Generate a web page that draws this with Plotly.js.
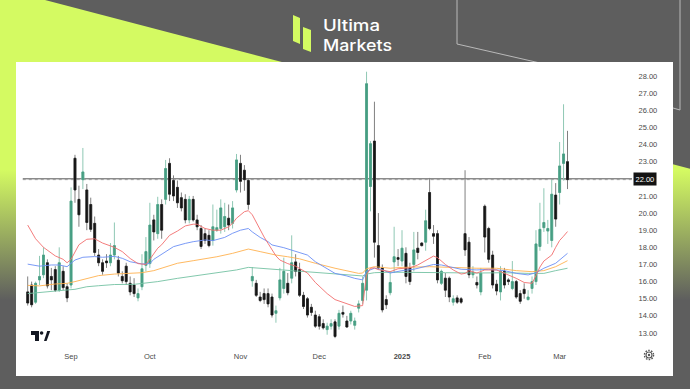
<!DOCTYPE html>
<html><head><meta charset="utf-8">
<script src="https://cdn.plot.ly/plotly-3.0.1.min.js"></script>
<style>
html,body{margin:0;padding:0;width:690px;height:389px;overflow:hidden;background:#5e5e5e;}
#bg{position:absolute;left:0;top:0;}
#chart{position:absolute;left:0;top:0;width:690px;height:389px;}
</style></head><body>
<svg id="bg" width="690" height="389" xmlns="http://www.w3.org/2000/svg">
  <defs>
    <linearGradient id="lg" gradientUnits="userSpaceOnUse" x1="0" y1="170" x2="0" y2="300">
      <stop offset="0" stop-color="#d4fa62"/>
      <stop offset="1" stop-color="#5e5e5e"/>
    </linearGradient>
  </defs>
  <rect width="690" height="389" fill="#5e5e5e"/>
  <polygon points="0,0 45,0 690,168.7 690,389 0,389" fill="url(#lg)"/>
  <polyline points="457,0 457,44 540,63" fill="none" stroke="#b9b9b9" stroke-width="1"/>
  <polyline points="673,108 680,110 680,0" fill="none" stroke="#b9b9b9" stroke-width="1"/>
  <rect x="16" y="62" width="657" height="314" fill="#ffffff"/>
  <polygon points="293,15 300,18 300,44 293,41" fill="#d4fa62"/>
  <polygon points="303,27 311,30 311,52 303,49" fill="#d4fa62"/>
  <text x="323" y="31" font-family="Inter, Roboto, sans-serif" font-weight="500" font-size="16" fill="#ffffff" textLength="57" lengthAdjust="spacingAndGlyphs">Ultima</text>
  <text x="323" y="51" font-family="Inter, Roboto, sans-serif" font-weight="500" font-size="16" fill="#ffffff" textLength="69" lengthAdjust="spacingAndGlyphs">Markets</text>
  <path d="M31 331 h8 v10 h-4 v-6 h-4 z" fill="#131722"/>
  <circle cx="41.6" cy="333" r="1.8" fill="#131722"/>
  <path d="M44 341 l3.2 -10 h3 l-3.6 10 z" fill="#131722"/>
  <circle cx="649" cy="355" r="3" fill="none" stroke="#555" stroke-width="1.1"/>
  <circle cx="649" cy="355" r="4.6" fill="none" stroke="#555" stroke-width="1.3" stroke-dasharray="1.6 1.3"/>
  <circle cx="649" cy="355" r="1.2" fill="#555"/>
</svg>
<div id="chart"></div>
<script>
const dates = [
 "2024-08-16","2024-08-19","2024-08-20","2024-08-21","2024-08-22","2024-08-23","2024-08-26","2024-08-27","2024-08-28","2024-08-29","2024-08-30",
 "2024-09-03","2024-09-04","2024-09-05","2024-09-06","2024-09-09","2024-09-10","2024-09-11","2024-09-12","2024-09-13","2024-09-16","2024-09-17","2024-09-18","2024-09-19","2024-09-20","2024-09-23","2024-09-24","2024-09-25","2024-09-26","2024-09-27","2024-09-30",
 "2024-10-01","2024-10-02","2024-10-03","2024-10-04","2024-10-07","2024-10-08","2024-10-09","2024-10-10","2024-10-11","2024-10-14","2024-10-15","2024-10-16","2024-10-17","2024-10-18","2024-10-21","2024-10-22","2024-10-23","2024-10-24","2024-10-25","2024-10-28","2024-10-29","2024-10-30","2024-10-31",
 "2024-11-01","2024-11-04","2024-11-05","2024-11-06","2024-11-07","2024-11-08","2024-11-11","2024-11-12","2024-11-13","2024-11-14","2024-11-15","2024-11-18","2024-11-19","2024-11-20","2024-11-21","2024-11-22","2024-11-25","2024-11-26","2024-11-27","2024-11-29",
 "2024-12-02","2024-12-03","2024-12-04","2024-12-05","2024-12-06","2024-12-09","2024-12-10","2024-12-11","2024-12-12","2024-12-13","2024-12-16","2024-12-17","2024-12-18","2024-12-19","2024-12-20","2024-12-23","2024-12-24","2024-12-26","2024-12-27","2024-12-30","2024-12-31",
 "2025-01-02","2025-01-03","2025-01-06","2025-01-07","2025-01-08","2025-01-09","2025-01-10","2025-01-13","2025-01-14","2025-01-15","2025-01-16","2025-01-17","2025-01-21","2025-01-22","2025-01-23","2025-01-24","2025-01-27","2025-01-28","2025-01-29","2025-01-30","2025-01-31",
 "2025-02-03","2025-02-04","2025-02-05","2025-02-06","2025-02-07","2025-02-10","2025-02-11","2025-02-12","2025-02-13","2025-02-14","2025-02-18","2025-02-19","2025-02-20","2025-02-21","2025-02-24","2025-02-25","2025-02-26","2025-02-27","2025-02-28",
 "2025-03-03","2025-03-04","2025-03-05"];

const opens = [15.4,15.8,14.8,16.1,16.4,17.1,16.3,16.7,15.5,16.6,15.7,
 15.8,23.2,20.8,21.95,21.35,20.5,19.4,17.55,17.1,17.2,17.1,17.55,17.25,16.3,16.9,15.9,15.8,15.05,15.7,16.95,
 17.05,19.6,18.8,20.5,20.8,22.9,21.9,21.5,20.9,20.8,19.6,20.8,19.6,19.1,18.8,18.7,18.4,19.0,19.1,19.2,19.7,19.4,21.35,
 22.9,22.5,21.9,16.05,15.9,15.1,15.3,15.3,15.1,14.15,15.05,15.6,15.9,16.2,17.15,16.7,15.2,15.0,14.5,14.05,
 13.95,13.55,13.2,13.4,13.65,13.4,14.2,13.7,13.7,13.45,14.45,14.9,15.5,21.55,24.2,18.1,16.8,14.95,15.35,17.15,17.4,
 17.2,17.65,16.8,17.0,17.95,18.25,18.3,21.2,18.8,18.8,15.9,16.2,16.2,14.8,15.05,15.0,18.8,18.3,16.4,15.95,15.4,
 20.4,19.1,17.55,15.85,15.4,16.6,16.1,15.6,16.0,15.3,15.55,14.95,15.6,16.0,18.05,19.15,18.95,18.4,21.05,
 21.2,22.9,23.0];
const highs = [16.3,16.0,16.0,17.5,18.0,17.3,16.8,16.9,18.0,16.9,15.9,
 21.5,23.4,21.6,23.8,21.7,20.9,19.8,17.9,17.3,17.6,18.25,19.45,17.5,16.6,17.1,16.3,16.2,15.6,17.6,18.6,
 20.6,19.9,20.95,20.8,23.1,23.2,22.2,21.9,21.2,21.1,21.0,21.0,19.9,19.3,19.1,19.0,20.5,20.2,20.8,20.6,20.5,20.7,23.45,
 23.4,22.8,22.0,16.85,16.1,15.4,15.6,15.6,15.3,14.6,16.8,17.4,16.5,18.7,17.6,17.1,15.4,15.1,14.7,14.3,
 14.1,13.8,13.6,13.8,13.8,14.35,14.6,14.0,14.3,13.9,14.9,16.3,28.25,24.2,26.5,20.0,17.0,15.2,16.6,19.2,17.9,
 19.0,18.0,17.1,18.9,18.9,18.3,20.2,22.05,19.3,19.0,16.7,16.5,16.3,15.2,15.2,15.1,22.5,18.6,16.9,16.3,16.8,
 20.5,19.2,17.8,16.1,16.9,16.8,16.2,17.2,16.1,15.5,15.9,15.5,16.3,19.0,20.6,21.45,19.6,21.95,21.75,
 24.15,26.35,24.8];
const lows = [14.6,14.5,14.7,15.8,16.2,15.6,15.5,15.4,15.4,15.5,14.8,
 15.6,20.6,19.2,21.4,19.0,18.9,17.5,16.9,16.4,16.8,16.9,17.3,16.3,15.9,15.8,15.2,15.1,14.85,15.5,16.6,
 16.8,18.4,18.5,18.5,20.5,20.7,20.7,20.3,20.1,19.4,19.4,19.5,19.0,17.9,18.2,18.0,18.1,18.9,18.8,18.9,19.0,19.1,21.2,
 21.2,21.3,20.2,15.7,15.1,14.8,14.7,14.5,13.9,13.6,14.9,15.3,15.2,15.9,16.3,15.1,14.4,13.9,14.0,13.3,
 13.2,13.2,12.9,13.2,12.7,13.2,13.9,13.3,13.5,13.2,14.2,14.7,14.9,20.1,17.4,16.7,14.2,14.4,15.2,16.5,16.9,
 16.9,15.9,15.8,16.6,17.3,18.05,17.8,19.0,18.2,15.9,15.8,15.1,14.8,14.6,14.7,14.7,17.5,16.2,16.2,15.6,15.2,
 17.7,17.1,15.6,15.2,14.9,15.6,15.8,15.5,15.0,14.7,15.0,14.9,15.3,15.8,17.8,18.9,18.2,18.0,19.2,
 20.5,21.9,21.4];
const closes = [14.75,14.65,15.9,16.3,17.55,15.75,16.1,15.5,17.1,15.65,15.05,
 20.7,21.35,19.9,22.4,19.45,19.05,17.7,17.1,16.6,17.1,17.55,18.1,16.5,16.05,16.0,15.4,15.3,15.3,16.75,17.75,
 19.3,18.9,20.5,19.0,22.6,21.1,21.0,20.6,20.3,19.6,20.8,19.6,19.2,18.05,18.4,18.1,19.2,19.15,20.3,19.8,19.3,20.3,23.1,
 21.85,21.95,20.5,16.3,15.2,14.9,14.95,14.7,14.05,14.3,16.1,16.6,15.35,17.1,16.6,15.2,14.55,14.05,14.2,13.4,
 13.4,13.3,13.4,13.55,12.8,14.15,14.1,13.35,14.15,13.7,14.7,15.9,27.55,24.05,18.3,16.8,14.35,14.65,15.95,17.45,17.3,
 17.95,16.3,16.0,17.85,17.7,18.1,19.55,19.1,18.65,16.1,16.6,15.5,15.1,15.0,14.8,14.8,17.85,16.4,16.55,15.8,16.5,
 18.6,17.3,15.8,15.45,16.6,15.8,16.0,16.0,15.1,14.85,15.3,15.1,16.0,18.2,19.05,19.45,19.1,21.1,19.65,
 22.75,23.45,21.95];

// moving-average lines (bar index, value)
const redIdx = [0,2,4,7,9,10,11,12,13,15,17,19,21,22,24,26,28,30,31,32,33,34,35,36,38,40,42,43,45,47,49,51,52,53,55,56,57,58,60,61,63,64,66,68,71,73,76,78,81,83,85,86,87,88,89,92,94,97,99,101,103,104,106,108,110,111,112,114,116,119,121,124,126,128,129,130,131,133,134,135,136,137];
const redVal = [19.3,18.5,18.0,17.5,17.3,17.1,17.3,17.75,18.15,18.47,18.5,18.25,18.08,18.0,17.75,17.35,17.05,17.0,17.3,17.65,17.95,18.15,18.45,18.7,18.95,19.25,19.35,19.35,19.1,19.0,19.0,19.2,19.4,19.7,20.08,20.14,19.9,19.45,18.6,18.23,17.5,17.26,17.05,16.9,16.5,15.95,15.3,14.95,14.72,14.55,14.6,16.4,16.78,16.8,16.7,16.58,16.75,16.8,16.97,17.25,17.49,17.4,17.0,16.68,16.44,16.48,16.64,16.5,16.68,16.68,16.5,16.19,15.95,15.9,16.35,16.85,17.2,17.55,18.0,18.4,18.65,18.92];
const blueIdx = [0,3,6,8,10,11,12,14,17,19,22,24,26,29,31,32,35,37,40,42,45,47,50,52,54,56,57,59,61,62,65,67,68,71,73,76,78,81,83,85,86,88,90,92,95,98,101,103,105,108,110,114,117,121,124,127,129,131,134,137];
const blueVal = [17.02,16.9,16.97,16.97,16.87,17.07,17.26,17.42,17.46,17.42,17.47,17.36,17.16,17.03,17.05,17.3,17.75,18.04,18.23,18.33,18.43,18.39,18.58,18.82,19.0,19.1,18.9,18.58,18.33,18.14,17.98,17.85,17.75,17.55,17.16,16.78,16.48,16.33,16.19,16.1,16.6,16.78,16.7,16.5,16.64,16.72,16.87,17.0,16.97,16.83,16.72,16.68,16.72,16.64,16.48,16.39,16.52,16.78,17.07,17.65];
const orangeIdx = [0,3,7,10,12,15,18,22,26,29,32,35,38,42,46,48,52,56,59,63,66,69,73,78,84,85,86,88,92,95,102,106,114,119,124,128,131,134,137];
const orangeVal = [15.78,15.75,15.86,15.9,16.0,16.19,16.35,16.44,16.48,16.52,16.64,16.87,17.07,17.22,17.36,17.45,17.65,17.9,17.75,17.55,17.45,17.33,17.07,16.78,16.48,16.5,16.75,16.87,16.78,16.83,16.87,16.83,16.78,16.78,16.64,16.58,16.64,16.87,17.22];
const greenIdx = [0,3,8,12,15,18,22,27,30,33,38,43,46,50,53,56,59,64,69,73,78,85,86,88,92,98,106,114,121,127,131,134,137];
const greenVal = [15.3,15.35,15.47,15.55,15.7,15.76,15.83,15.84,15.9,16.0,16.19,16.35,16.43,16.58,16.68,16.83,16.78,16.68,16.6,16.56,16.44,16.33,16.44,16.52,16.55,16.52,16.52,16.5,16.52,16.48,16.48,16.64,16.78];

const tickDates = ["2024-09-03","2024-10-01","2024-11-01","2024-12-02","2025-01-02","2025-02-03","2025-03-03"];
const tickLabels = ["Sep","Oct","Nov","Dec","<b>2025</b>","Feb","Mar"];
const priceTicks = [13,14,15,16,17,18,19,20,21,22,23,24,25,26,27,28];
const levelPrice = 22.00;

const upColor = '#479e83', downColor = '#161616';
const bodyHigh = opens.map((o,i)=>Math.max(o,closes[i]));
const bodyLow = opens.map((o,i)=>Math.min(o,closes[i]));

const wicks = {type:'candlestick', x:dates, open:opens, high:highs, low:lows, close:closes,
  increasing:{line:{color:'#8fc8b4', width:1}, fillcolor:'rgba(0,0,0,0)'},
  decreasing:{line:{color:'#808080', width:1}, fillcolor:'rgba(0,0,0,0)'},
  whiskerwidth:0, hoverinfo:'skip', showlegend:false};
const bodies = {type:'candlestick', x:dates, open:opens, high:bodyHigh, low:bodyLow, close:closes,
  increasing:{line:{color:upColor, width:0.6}, fillcolor:upColor},
  decreasing:{line:{color:downColor, width:0.6}, fillcolor:downColor},
  whiskerwidth:0, hoverinfo:'skip', showlegend:false};
function ma(idx, val, color){
  return {type:'scatter', mode:'lines', x:idx.map(i=>dates[i]), y:val,
    line:{color:color, width:0.9}, hoverinfo:'skip', showlegend:false};
}
const traces = [
  wicks, bodies,
  ma(greenIdx, greenVal, '#74c2a3'),
  ma(orangeIdx, orangeVal, '#ffb14f'),
  ma(blueIdx, blueVal, '#6b8ff5'),
  ma(redIdx, redVal, '#f26d6d')];

const lastClose = closes[closes.length-1];
const tfont = {family:'Liberation Sans, Arial, sans-serif', size:7.5, color:'#4a4a4a'};
const layout = {
  width:690, height:389,
  margin:{l:16, r:58, t:62, b:44, pad:0},
  paper_bgcolor:'rgba(0,0,0,0)', plot_bgcolor:'rgba(0,0,0,0)',
  showlegend:false, boxmode:'overlay',
  xaxis:{type:'category', categoryorder:'array', categoryarray:dates,
    range:[-2.97,153.37], tickvals:tickDates, ticktext:tickLabels,
    showgrid:false, zeroline:false, showline:false, ticks:'outside', ticklen:4,
    tickcolor:'rgba(0,0,0,0)', tickfont:tfont, rangeslider:{visible:false}, fixedrange:true},
  yaxis:{side:'right', range:[12.30,28.817], tickvals:priceTicks.filter(v=>v!==levelPrice), tickformat:'.2f',
    showgrid:false, zeroline:false, showline:false, ticks:'outside', ticklen:4,
    tickcolor:'rgba(0,0,0,0)', tickfont:tfont, fixedrange:true},
  shapes:[
    {type:'line', xref:'paper', yref:'y', x0:0.011, x1:1, y0:lastClose, y1:lastClose,
     line:{color:'#b4b4b4', width:1, dash:'dot'}, layer:'below'},
    {type:'line', xref:'paper', yref:'y', x0:0.011, x1:1, y0:levelPrice, y1:levelPrice,
     line:{color:'#5a5a5a', width:1}, layer:'below'}
  ],
  annotations:[
    {xref:'paper', yref:'y', x:1.0219, y:levelPrice, text:levelPrice.toFixed(2), showarrow:false,
     xanchor:'center', yanchor:'middle', bgcolor:'#131313', borderpad:1.5,
     font:{family:'Liberation Sans, Arial, sans-serif', size:7.5, color:'#ffffff'}}
  ]
};
Plotly.newPlot('chart', traces, layout, {staticPlot:true, displayModeBar:false});
</script>
</body></html>
